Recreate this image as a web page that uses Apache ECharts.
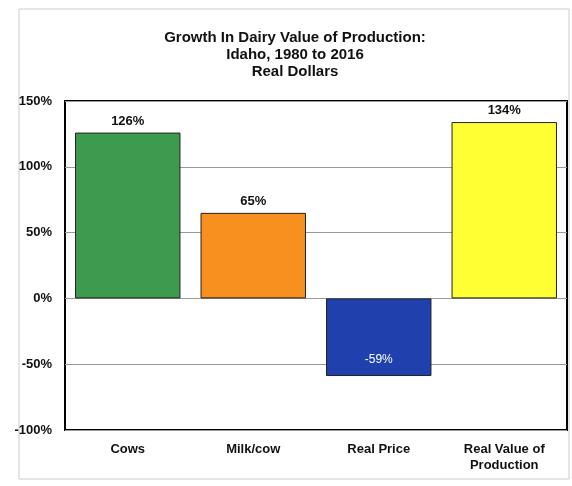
<!DOCTYPE html>
<html>
<head>
<meta charset="utf-8">
<script src="https://cdn.jsdelivr.net/npm/echarts@6/dist/echarts.min.js"></script>
<style>
html,body{margin:0;padding:0;background:#fff;}
#c{width:572px;height:486px;}
</style>
</head>
<body>
<div id="c"></div>
<script>
var categories = ['Cows', 'Milk/cow', 'Real Price', 'Real Value of\nProduction'];
var values = [126, 65, -59, 134];
var barColors = ['#3d9b50', '#f7901e', '#1f40ad', '#ffff33'];
var titleLines = ['Growth In Dairy Value of Production:', 'Idaho, 1980 to 2016', 'Real Dollars'];

var chart = echarts.init(document.getElementById('c'));
var font = 'Liberation Sans, Arial, sans-serif';
chart.setOption({
  backgroundColor: '#ffffff',
  animation: false,
  title: {
    text: titleLines.join('\n'),
    left: 290,
    textAlign: 'center',
    top: 24,
    textStyle: {fontFamily: font, fontWeight: 'bold', fontSize: 15, lineHeight: 17, color: '#111'}
  },
  graphic: [{
    type: 'rect',
    shape: {x: 19, y: 9, width: 550, height: 470},
    style: {fill: 'none', stroke: '#cccccc', lineWidth: 1},
    z: -1
  }],
  grid: {
    left: 65, right: 5, top: 101, bottom: 56,
    show: true, borderColor: '#000', borderWidth: 2, backgroundColor: 'transparent'
  },
  xAxis: {
    type: 'category',
    data: categories,
    axisLine: {show: false},
    axisTick: {show: false},
    axisLabel: {fontFamily: font, fontWeight: 'bold', fontSize: 13, color: '#111', margin: 11, lineHeight: 16}
  },
  yAxis: {
    type: 'value',
    min: -100, max: 150, interval: 50,
    axisLine: {show: false},
    axisTick: {show: false},
    axisLabel: {formatter: '{value}%', fontFamily: font, fontWeight: 'bold', fontSize: 13, color: '#111', margin: 13},
    splitLine: {lineStyle: {color: '#999', width: 1}}
  },
  series: [{
    type: 'bar',
    data: values.map(function (v, i) {
      var d = {value: v, itemStyle: {color: barColors[i]}};
      if (v < 0) {
        d.label = {position: 'insideBottom', distance: 10, color: '#ffffff', fontWeight: 'normal', fontSize: 12};
      }
      return d;
    }),
    barCategoryGap: '16%',
    itemStyle: {borderColor: '#222', borderWidth: 1},
    label: {
      show: true, position: 'top', distance: 5,
      formatter: '{c}%', fontFamily: font, fontWeight: 'bold', fontSize: 13, color: '#111'
    }
  }]
});
</script>
</body>
</html>
